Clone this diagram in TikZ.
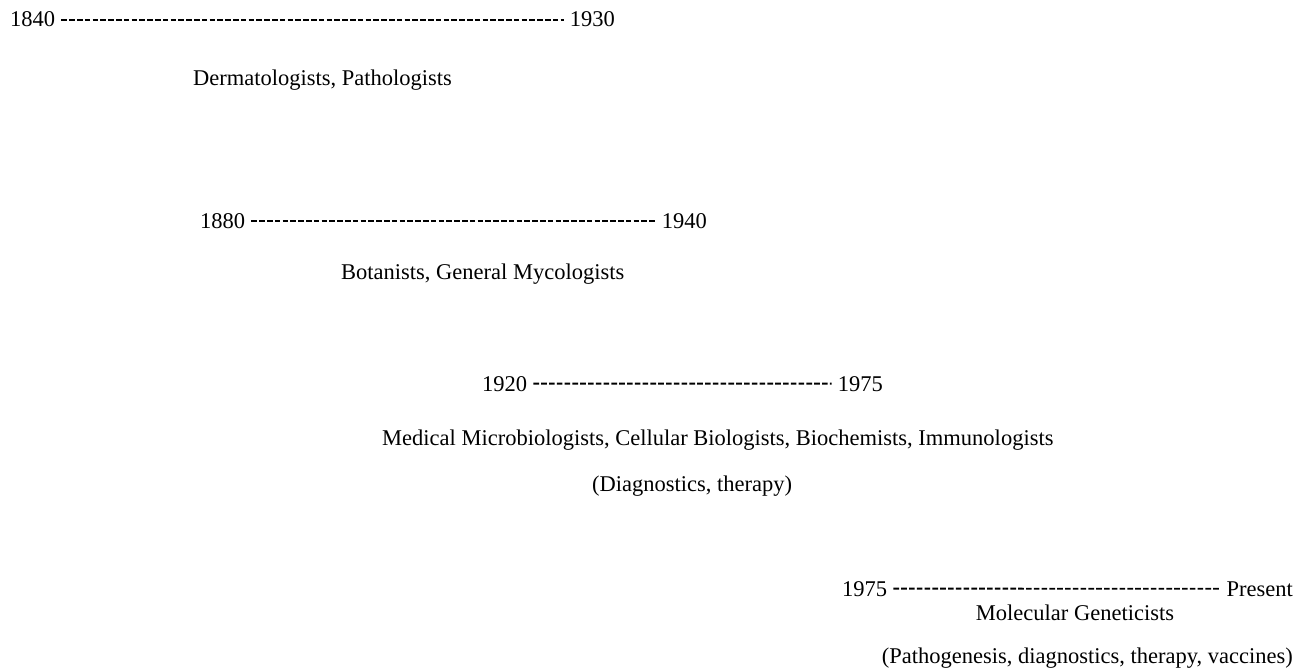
\documentclass[tikz,border=0pt]{standalone}
\usepackage{fontspec}
\setmainfont{Liberation Serif}
\usepackage{tikz}
\usetikzlibrary{positioning}
\tikzset{
  yr/.style   ={font=\fontsize{22.5}{27}\selectfont, inner sep=0pt},
  grp/.style  ={font=\fontsize{22.5}{27}\selectfont, inner sep=0pt},
  span/.style ={line width=1.9pt, dash pattern=on 5.6pt off 2.2pt,
    shorten <=6pt, shorten >=6pt, yshift=-1.5pt}
}
\begin{document}
\begin{tikzpicture}[x=1pt, y=-1pt]
    \useasboundingbox (0,0) rectangle (1300,671);

    % ---------- 1840 -- 1930 ----------
    \node[yr, anchor=base west] (s1) at (10,27) {1840};
    \node[yr, anchor=base east] (e1) at (615,27) {1930};
    \draw[span] (s1) -- (e1);
    \node[grp, anchor=base west] (g1) at (193,86) {Dermatologists, Pathologists};

    % ---------- 1880 -- 1940 ----------
    \node[yr, anchor=base west] (s2) at (200,228) {1880};
    \node[yr, anchor=base east] (e2) at (707,228) {1940};
    \draw[span] (s2) -- (e2);
    \node[grp, anchor=base west] (g2) at (341,279) {Botanists, General Mycologists};

    % ---------- 1920 -- 1975 ----------
    \node[yr, anchor=base west] (s3) at (482,391) {1920};
    \node[yr, anchor=base east] (e3) at (883,391) {1975};
    \draw[span] (s3) -- (e3);
    \node[grp, anchor=base west] (g3) at (382,445)
      {Medical Microbiologists, Cellular Biologists, Biochemists, Immunologists};
    \node[grp, anchor=base] (n3) at (692,491) {(Diagnostics, therapy)};

    % ---------- 1975 -- Present ----------
    \node[yr, anchor=base west] (s4) at (842,596) {1975};
    \node[yr, anchor=base east] (e4) at (1293,596) {Present};
    \draw[span] (s4) -- (e4);
    \node[grp, anchor=base] (g4) at (1075,620) {Molecular Geneticists};
    \node[grp, anchor=base east] (n4) at (1293,663)
      {(Pathogenesis, diagnostics, therapy, vaccines)};

  \end{tikzpicture}
\end{document}
